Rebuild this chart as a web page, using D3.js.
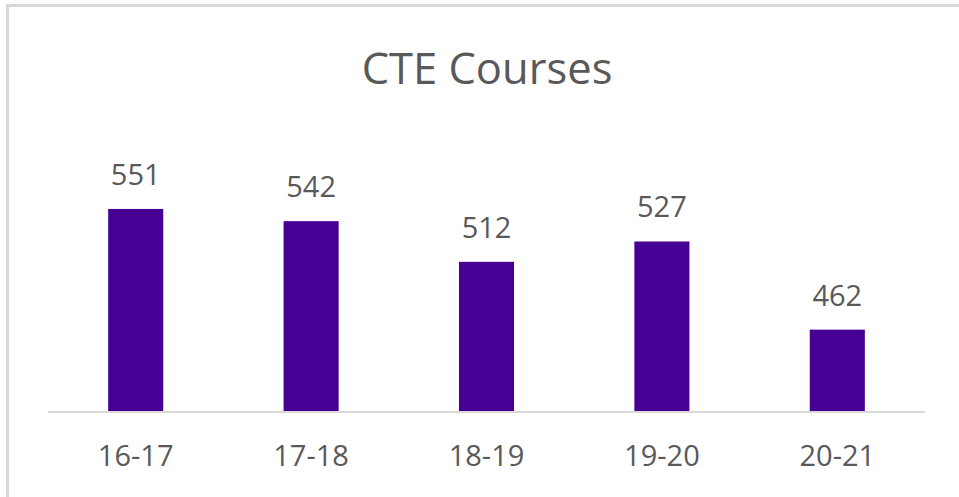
<!DOCTYPE html>
<html>
<head>
<meta charset="utf-8">
<script src="https://cdn.jsdelivr.net/npm/d3@7"></script>
<style>
  html, body { margin: 0; padding: 0; background: #fff; }
  svg { display: block; font-family: "Open Sans", "Noto Sans", sans-serif; }
</style>
</head>
<body>
<div id="chart"></div>
<script>
const years = ["16-17", "17-18", "18-19", "19-20", "20-21"];
const courses = [551, 542, 512, 527, 462];
const chartTitle = "CTE Courses";

const W = 959, H = 497;
const textColor = "#595959";
const barColor = "#470094";

const svg = d3.select("#chart")
  .append("svg")
  .attr("width", W)
  .attr("height", H);

// chart frame (only top/left visible, rest cropped)
svg.append("rect")
  .attr("x", 7.5)
  .attr("y", 5.5)
  .attr("width", W + 20)
  .attr("height", H + 20)
  .style("fill", "#fff")
  .style("stroke", "#d9d9d9")
  .style("stroke-width", 3);

const x = d3.scaleBand()
  .domain(years)
  .range([48, 925])
  .paddingInner(0.686)
  .paddingOuter(0.343);

const y = d3.scaleLinear()
  .domain([402, 600])
  .range([411, 142.5]);

svg.append("text")
  .attr("x", 487)
  .attr("y", 84)
  .attr("text-anchor", "middle")
  .style("font-size", "43.5px")
  .style("fill", textColor)
  .text(chartTitle);

const bars = svg.append("g")
  .selectAll("g")
  .data(years.map((d, i) => ({ year: d, value: courses[i] })))
  .enter()
  .append("g");

bars.append("rect")
  .attr("x", (d) => x(d.year))
  .attr("y", (d) => y(d.value))
  .attr("width", x.bandwidth())
  .attr("height", (d) => y.range()[0] - y(d.value))
  .style("fill", barColor);

bars.append("text")
  .attr("x", (d) => x(d.year) + x.bandwidth() / 2)
  .attr("y", (d) => y(d.value) - 24)
  .attr("text-anchor", "middle")
  .style("font-size", "29px")
  .style("fill", textColor)
  .text((d) => d.value);

// category axis
const axis = svg.append("g")
  .attr("transform", `translate(0, ${y.range()[0] + 1})`)
  .call(d3.axisBottom(x).tickSize(0).tickPadding(0));
axis.select(".domain")
  .attr("d", `M48,0H925`)
  .style("stroke", "#d9d9d9")
  .style("stroke-width", 2);
axis.selectAll(".tick text")
  .attr("dy", null)
  .attr("y", 54)
  .style("font-family", "'Open Sans', 'Noto Sans', sans-serif")
  .style("font-size", "29px")
  .style("fill", textColor);
</script>
</body>
</html>
